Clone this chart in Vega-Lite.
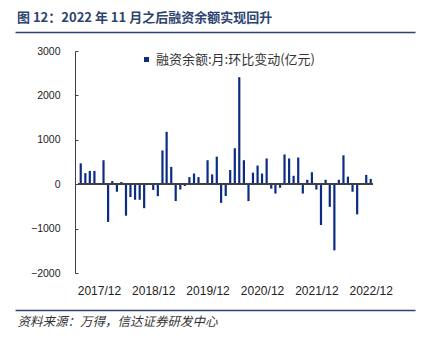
{
  "$schema": "https://vega.github.io/schema/vega-lite/v6.json",
  "width": 400,
  "height": 222,
  "autosize": {"type": "none"},
  "padding": {"left": 15, "top": 51, "right": 15, "bottom": 65},
  "background": "white",
  "config": {"view": {"stroke": null}, "font": "Liberation Sans"},
  "title": {
    "text": "图 12：2022 年 11 月之后融资余额实现回升",
    "anchor": "start",
    "font": "Noto Sans CJK SC",
    "fontSize": 13,
    "fontWeight": "bold",
    "color": "#2E4470",
    "offset": 7,
    "dx": 2
  },
  "data": {
    "values": [
      {"month": "2017-08-01", "change": 470},
      {"month": "2017-09-01", "change": 250},
      {"month": "2017-10-01", "change": 300},
      {"month": "2017-11-01", "change": 300},
      {"month": "2017-12-01", "change": -10},
      {"month": "2018-01-01", "change": 540},
      {"month": "2018-02-01", "change": -850},
      {"month": "2018-03-01", "change": 70},
      {"month": "2018-04-01", "change": -170},
      {"month": "2018-05-01", "change": 50},
      {"month": "2018-06-01", "change": -710},
      {"month": "2018-07-01", "change": -290},
      {"month": "2018-08-01", "change": -350},
      {"month": "2018-09-01", "change": -350},
      {"month": "2018-10-01", "change": -540},
      {"month": "2018-11-01", "change": -10},
      {"month": "2018-12-01", "change": -130},
      {"month": "2019-01-01", "change": -270},
      {"month": "2019-02-01", "change": 760},
      {"month": "2019-03-01", "change": 1180},
      {"month": "2019-04-01", "change": 390},
      {"month": "2019-05-01", "change": -380},
      {"month": "2019-06-01", "change": -120},
      {"month": "2019-07-01", "change": -40},
      {"month": "2019-08-01", "change": 160},
      {"month": "2019-09-01", "change": 240},
      {"month": "2019-10-01", "change": 160},
      {"month": "2019-11-01", "change": -10},
      {"month": "2019-12-01", "change": 540},
      {"month": "2020-01-01", "change": 220},
      {"month": "2020-02-01", "change": 620},
      {"month": "2020-03-01", "change": -420},
      {"month": "2020-04-01", "change": -265},
      {"month": "2020-05-01", "change": 320},
      {"month": "2020-06-01", "change": 810},
      {"month": "2020-07-01", "change": 2410},
      {"month": "2020-08-01", "change": 540},
      {"month": "2020-09-01", "change": -380},
      {"month": "2020-10-01", "change": 260},
      {"month": "2020-11-01", "change": 420},
      {"month": "2020-12-01", "change": 240},
      {"month": "2021-01-01", "change": 580},
      {"month": "2021-02-01", "change": -100},
      {"month": "2021-03-01", "change": -210},
      {"month": "2021-04-01", "change": -80},
      {"month": "2021-05-01", "change": 670},
      {"month": "2021-06-01", "change": 580},
      {"month": "2021-07-01", "change": 190},
      {"month": "2021-08-01", "change": 600},
      {"month": "2021-09-01", "change": -210},
      {"month": "2021-10-01", "change": 100},
      {"month": "2021-11-01", "change": 270},
      {"month": "2021-12-01", "change": -120},
      {"month": "2022-01-01", "change": -920},
      {"month": "2022-02-01", "change": 100},
      {"month": "2022-03-01", "change": -510},
      {"month": "2022-04-01", "change": -1490},
      {"month": "2022-05-01", "change": 100},
      {"month": "2022-06-01", "change": 650},
      {"month": "2022-07-01", "change": 170},
      {"month": "2022-08-01", "change": -170},
      {"month": "2022-09-01", "change": -680},
      {"month": "2022-10-01", "change": 0},
      {"month": "2022-11-01", "change": 210},
      {"month": "2022-12-01", "change": 120}
    ]
  },
  "layer": [
    {
      "mark": {"type": "bar", "size": 2.2},
      "encoding": {
        "x": {
          "field": "month",
          "type": "temporal",
          "scale": {
            "type": "utc",
            "domain": [
              {"year": 2016, "month": 6, "date": 19, "utc": true},
              {"year": 2023, "month": 8, "date": 22, "utc": true}
            ]
          },
          "axis": {
            "orient": "bottom",
            "offset": 37,
            "values": [
              {"year": 2017, "month": 12, "date": 1, "utc": true},
              {"year": 2018, "month": 12, "date": 1, "utc": true},
              {"year": 2019, "month": 12, "date": 1, "utc": true},
              {"year": 2020, "month": 12, "date": 1, "utc": true},
              {"year": 2021, "month": 12, "date": 1, "utc": true},
              {"year": 2022, "month": 12, "date": 1, "utc": true}
            ],
            "format": "%Y/%m",
            "grid": false,
            "domainColor": "#2E4470",
            "domainWidth": 1.5,
            "ticks": false,
            "labelPadding": -25,
            "labelAngle": 0,
            "labelFont": "Liberation Sans",
            "labelFontSize": 12,
            "labelColor": "#222222",
            "labelOverlap": false,
            "labelFlush": false,
            "title": "资料来源：万得，信达证券研发中心",
            "titleFont": "Noto Sans CJK SC",
            "titleFontStyle": "italic",
            "titleFontWeight": "normal",
            "titleFontSize": 12.5,
            "titleColor": "#333333",
            "titleAnchor": "start",
            "titleAlign": "left",
            "titleX": 2,
            "titleY": 11,
            "titleBaseline": "middle"
          }
        },
        "y": {
          "field": "change",
          "type": "quantitative",
          "scale": {"domain": [-2000, 3000], "nice": false},
          "axis": {
            "values": [-2000, -1500, -1000, -500, 0, 500, 1000, 1500, 2000, 2500, 3000],
            "format": "d",
            "offset": -60,
            "tickSize": -3,
            "domainColor": "#404040",
            "tickColor": "#404040",
            "labelPadding": 18,
            "grid": false,
            "title": null,
            "labelFont": "Liberation Sans",
            "labelFontSize": 10.5,
            "labelColor": "#222222"
          }
        },
        "color": {
          "datum": "融资余额:月:环比变动(亿元)",
          "scale": {"range": ["#0C2C84"]},
          "legend": {
            "orient": "none",
            "legendX": 125,
            "legendY": 2,
            "title": null,
            "symbolType": "square",
            "symbolSize": 25,
            "symbolStrokeWidth": 0,
            "labelFont": "Noto Sans CJK SC",
            "labelFontSize": 13,
            "labelColor": "#333333",
            "labelLimit": 300,
            "padding": 0,
            "labelOffset": 3
          }
        }
      }
    },
    {
      "mark": {"type": "rule", "color": "#404040", "strokeWidth": 1.3},
      "encoding": {
        "x": {
          "datum": {"year": 2017, "month": 7, "date": 17, "utc": true},
          "type": "temporal",
          "axis": {
            "orient": "top",
            "offset": 19,
            "domain": true,
            "domainColor": "#2E4470",
            "domainWidth": 1.5,
            "labels": false,
            "ticks": false,
            "grid": false,
            "title": null
          }
        },
        "x2": {"datum": {"year": 2022, "month": 12, "date": 16, "utc": true}},
        "y": {"datum": 0, "type": "quantitative"}
      }
    }
  ],
  "resolve": {"axis": {"x": "independent"}}
}
